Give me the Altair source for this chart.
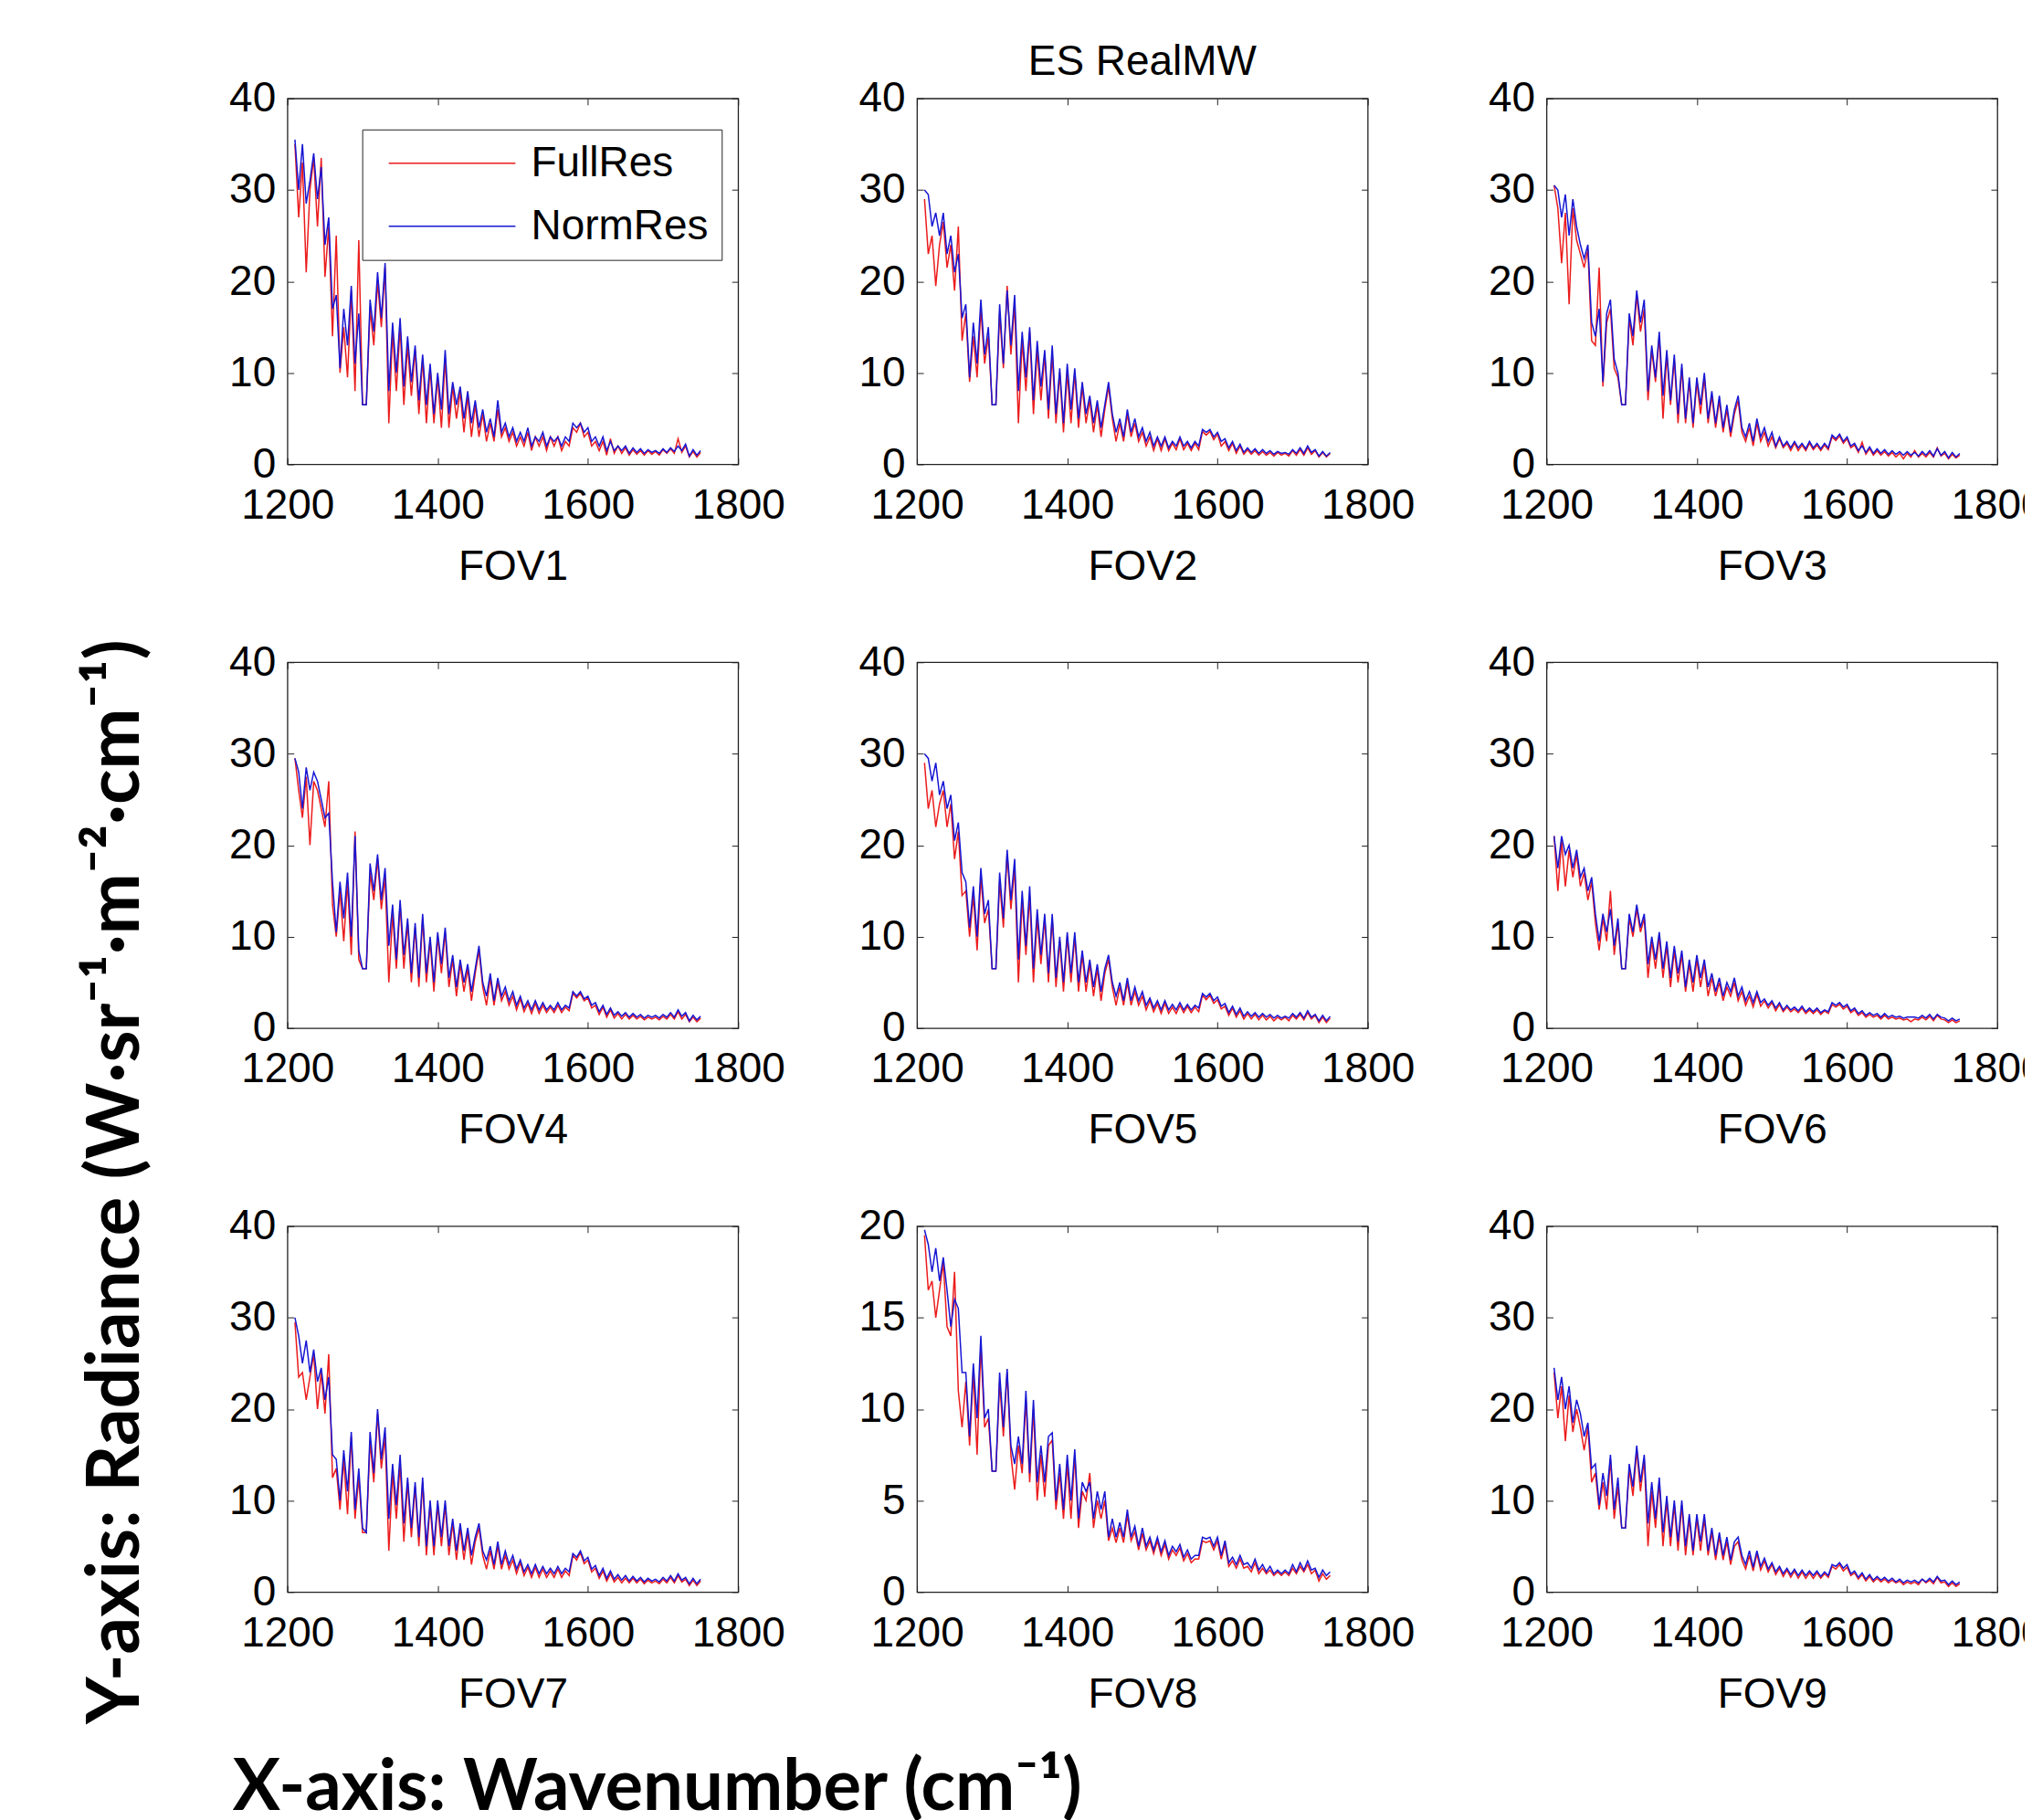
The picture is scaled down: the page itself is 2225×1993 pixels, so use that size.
import altair as alt
import pandas as pd

# ---------------- data ----------------
WAVENUMBER_START = 1210
WAVENUMBER_STEP = 5
N_CHANNELS = 109
WAVENUMBERS = [WAVENUMBER_START + WAVENUMBER_STEP * i for i in range(N_CHANNELS)]
SERIES = ["FullRes", "NormRes"]
X_TICKS = [1200, 1400, 1600, 1800]
Y_TICKS_40 = [0, 10, 20, 30, 40]
Y_TICKS_20 = [0, 5, 10, 15, 20]

FOV1_NORM = [35.5, 30.0, 35.0, 28.5, 31.0, 34.0, 29.0, 32.5, 24.0, 27.0,
             17.0, 18.5, 10.5, 17.0, 13.0, 19.5, 11.0, 16.5, 6.5, 6.5,
             18.0, 14.5, 21.0, 16.0, 22.0, 8.0, 15.5, 10.0, 16.0, 8.5,
             14.0, 9.0, 13.0, 7.0, 12.0, 6.5, 11.0, 5.5, 10.0, 6.0,
             12.5, 5.5, 9.0, 6.5, 8.5, 5.0, 8.0, 4.5, 7.0, 4.0,
             6.0, 3.5, 5.0, 3.0, 7.0, 3.5, 4.5, 3.0, 4.0, 2.5,
             3.5, 2.5, 4.0, 2.0, 3.0, 2.5, 3.5, 2.0, 3.0, 2.5,
             3.0, 2.0, 3.0, 2.5, 4.5, 4.0, 4.5, 3.5, 4.0, 2.5,
             3.0, 2.0, 3.0, 1.5, 2.5, 1.5, 2.0, 1.5, 2.0, 1.2,
             1.8, 1.3, 1.7, 1.2, 1.6, 1.3, 1.5, 1.2, 1.7, 1.3,
             1.8, 1.4, 2.0, 1.5, 2.2, 0.9, 1.6, 1.0, 1.5]
FOV1_FULL = [35.0, 27.0, 33.0, 21.0, 30.0, 33.5, 26.0, 33.5, 20.5, 26.0,
             14.0, 25.0, 10.0, 15.0, 9.5, 19.0, 8.0, 24.5, 6.5, 6.5,
             17.0, 13.0, 20.0, 15.0, 21.5, 4.5, 14.5, 8.0, 15.0, 6.5,
             13.0, 7.5, 12.5, 5.5, 11.5, 4.5, 10.5, 4.5, 9.5, 4.0,
             11.5, 4.0, 8.5, 5.0, 8.0, 3.5, 7.5, 3.0, 6.5, 3.0,
             5.5, 2.5, 4.5, 2.5, 6.0, 3.0, 4.0, 2.5, 3.5, 2.0,
             3.0, 2.0, 3.5, 1.5, 3.0, 2.0, 3.0, 1.5, 3.0, 2.0,
             3.0, 1.5, 2.5, 2.0, 4.0, 3.5, 4.5, 3.0, 3.5, 2.0,
             2.5, 1.5, 2.5, 1.0, 2.8, 1.2, 2.0, 1.2, 1.8, 1.0,
             1.6, 1.1, 1.5, 1.0, 1.5, 1.1, 1.4, 1.0, 1.6, 1.2,
             1.7, 1.2, 2.8, 1.3, 2.0, 0.8, 1.4, 0.8, 1.3]

FOV2_NORM = [30.0, 29.5, 26.0, 27.5, 25.0, 27.5, 23.0, 25.0, 21.0, 23.0,
             16.0, 17.5, 9.5, 15.5, 11.0, 18.0, 12.0, 15.0, 6.5, 6.5,
             17.5, 11.0, 19.0, 13.0, 18.5, 8.0, 14.5, 9.5, 15.0, 7.0,
             13.5, 8.5, 12.5, 6.0, 13.0, 5.5, 10.5, 4.5, 11.0, 6.0,
             10.5, 5.0, 9.0, 5.5, 7.5, 4.5, 7.0, 4.0, 6.5, 9.0,
             5.5, 3.5, 5.0, 3.0, 6.0, 3.5, 5.0, 3.0, 4.0, 2.5,
             3.5, 2.0, 3.0, 2.0, 3.0, 1.8, 2.5, 2.0, 3.0, 2.0,
             2.5, 1.8, 2.5, 2.0, 3.8, 3.5, 3.8, 3.0, 3.5, 2.5,
             2.8, 1.8, 2.5, 1.5, 2.2, 1.3, 1.8, 1.3, 1.7, 1.2,
             1.6, 1.2, 1.5, 1.1, 1.4, 1.2, 1.3, 1.1, 1.6, 1.2,
             1.8, 1.2, 2.0, 1.3, 1.6, 0.9, 1.4, 0.9, 1.3]
FOV2_FULL = [29.0, 23.0, 25.0, 19.5, 24.0, 26.5, 21.5, 24.0, 19.0, 26.0,
             13.5, 16.5, 9.0, 14.0, 9.5, 17.0, 11.0, 14.0, 6.5, 6.5,
             16.5, 10.5, 19.5, 12.0, 17.5, 4.5, 13.5, 8.0, 14.5, 5.5,
             12.5, 7.0, 12.0, 5.0, 12.0, 4.5, 10.0, 3.5, 10.0, 4.5,
             10.0, 4.0, 8.5, 4.5, 7.0, 3.5, 6.5, 3.0, 6.0, 8.5,
             5.0, 2.5, 4.5, 2.5, 5.5, 3.0, 4.5, 2.5, 3.5, 2.0,
             3.0, 1.5, 2.8, 1.5, 2.8, 1.5, 2.3, 1.6, 2.8, 1.6,
             2.3, 1.5, 2.3, 1.6, 3.6, 3.2, 3.6, 2.7, 3.3, 2.0,
             2.5, 1.5, 2.3, 1.2, 2.0, 1.1, 1.6, 1.1, 1.5, 1.0,
             1.4, 1.0, 1.3, 0.9, 1.3, 1.0, 1.2, 0.9, 1.5, 1.0,
             1.6, 1.0, 1.8, 1.1, 1.5, 0.8, 1.3, 0.8, 1.2]

FOV3_NORM = [30.5, 30.0, 27.0, 29.5, 25.0, 29.0, 26.0, 24.0, 22.5, 24.0,
             15.5, 14.0, 17.0, 9.0, 16.5, 18.0, 11.5, 10.0, 6.5, 6.5,
             16.5, 14.0, 19.0, 15.5, 18.0, 8.0, 13.0, 9.5, 14.5, 7.5,
             12.5, 7.0, 12.0, 5.5, 11.0, 5.0, 9.5, 4.5, 9.5, 6.5,
             10.0, 5.0, 8.0, 4.5, 7.5, 4.0, 6.5, 3.5, 6.0, 7.5,
             4.0, 3.0, 4.5, 2.5, 5.0, 3.0, 4.0, 2.5, 3.5, 2.0,
             3.0, 2.0, 2.5, 1.8, 2.5, 1.8, 2.3, 1.7, 2.5, 1.8,
             2.3, 1.7, 2.3, 1.8, 3.2, 2.8, 3.3, 2.5, 3.0, 2.0,
             2.3, 1.5, 2.0, 1.3, 1.9, 1.2, 1.7, 1.2, 1.6, 1.1,
             1.5, 1.1, 1.4, 1.0, 1.4, 1.0, 1.3, 0.9, 1.4, 1.0,
             1.5, 0.9, 1.7, 1.0, 1.4, 0.7, 1.3, 0.8, 1.2]
FOV3_FULL = [30.5, 28.0, 22.0, 27.5, 17.5, 28.0, 24.5, 23.0, 21.5, 23.5,
             13.5, 13.0, 21.5, 8.5, 15.5, 17.0, 10.5, 9.5, 6.5, 6.5,
             16.0, 13.0, 18.5, 14.5, 17.0, 7.0, 12.5, 9.0, 14.0, 5.0,
             12.0, 6.5, 11.5, 4.5, 10.5, 4.5, 9.0, 4.0, 9.0, 5.5,
             9.5, 4.5, 7.5, 4.0, 7.0, 3.5, 6.0, 3.0, 5.5, 7.0,
             3.5, 2.5, 4.0, 2.0, 4.5, 2.5, 3.5, 2.0, 3.0, 1.8,
             2.8, 1.8, 2.3, 1.5, 2.3, 1.5, 2.1, 1.5, 2.3, 1.6,
             2.1, 1.5, 2.1, 1.6, 3.0, 2.6, 3.1, 2.3, 2.8, 1.8,
             2.1, 1.3, 2.4, 1.1, 1.7, 1.0, 1.5, 1.0, 1.4, 0.9,
             1.3, 0.8, 1.2, 0.6, 1.2, 0.8, 1.5, 0.8, 1.2, 0.8,
             1.3, 0.8, 1.8, 0.9, 1.2, 0.6, 1.1, 0.7, 1.0]

FOV4_NORM = [29.5, 28.0, 24.0, 28.5, 26.0, 28.0, 27.0, 25.0, 23.0, 23.5,
             16.0, 10.5, 16.0, 12.0, 17.0, 10.0, 21.0, 8.5, 6.5, 6.5,
             18.0, 15.0, 19.0, 14.0, 17.5, 9.0, 13.5, 7.5, 14.0, 8.0,
             12.0, 6.0, 11.5, 5.5, 12.5, 6.0, 10.0, 5.0, 10.5, 7.0,
             11.0, 5.5, 8.0, 4.5, 7.5, 5.0, 7.0, 4.0, 6.5, 9.0,
             5.0, 3.5, 6.0, 3.0, 5.5, 3.5, 4.5, 3.0, 4.0, 2.5,
             3.5, 2.2, 3.0, 2.0, 3.0, 2.0, 2.8, 2.0, 2.5, 2.0,
             2.8, 2.0, 2.5, 2.2, 4.0, 3.5, 4.0, 3.2, 3.5, 2.5,
             2.8, 1.8, 2.5, 1.5, 2.2, 1.4, 1.8, 1.3, 1.7, 1.2,
             1.6, 1.2, 1.5, 1.1, 1.4, 1.2, 1.4, 1.1, 1.5, 1.2,
             1.7, 1.2, 2.0, 1.3, 1.7, 0.8, 1.4, 0.9, 1.3]
FOV4_FULL = [29.5, 26.0, 23.0, 27.5, 20.0, 27.0, 26.0, 24.0, 22.0, 27.0,
             13.5, 10.0, 15.0, 9.5, 16.0, 8.0, 21.5, 7.5, 6.5, 6.5,
             17.0, 14.0, 18.5, 13.0, 16.5, 5.0, 12.5, 6.5, 13.5, 6.5,
             11.5, 5.0, 11.0, 4.5, 12.0, 5.0, 9.5, 4.0, 10.0, 6.0,
             10.5, 4.5, 7.5, 3.5, 7.0, 4.0, 6.5, 3.0, 6.0, 8.5,
             4.5, 2.5, 5.5, 2.5, 5.0, 3.0, 4.0, 2.5, 3.5, 2.0,
             3.2, 1.8, 2.7, 1.6, 2.7, 1.6, 2.5, 1.7, 2.3, 1.7,
             2.5, 1.7, 2.3, 1.9, 3.8, 3.3, 3.8, 3.0, 3.3, 2.2,
             2.5, 1.5, 2.3, 1.2, 2.0, 1.1, 1.6, 1.0, 1.5, 1.0,
             1.4, 1.0, 1.3, 0.9, 1.2, 1.0, 1.2, 0.9, 1.3, 1.0,
             1.5, 1.0, 1.8, 1.0, 1.5, 0.7, 1.2, 0.7, 1.1]

FOV5_NORM = [30.0, 29.5, 27.0, 29.0, 25.5, 27.0, 24.0, 25.5, 20.5, 22.5,
             17.0, 16.0, 11.0, 15.5, 10.0, 17.5, 12.5, 14.0, 6.5, 6.5,
             17.0, 12.0, 19.5, 14.0, 18.5, 7.5, 15.0, 9.0, 15.5, 6.5,
             13.0, 8.0, 12.5, 6.0, 12.5, 5.5, 10.0, 5.0, 10.5, 6.0,
             10.5, 5.0, 8.5, 5.0, 7.5, 4.5, 7.0, 4.0, 6.5, 8.0,
             5.0, 3.5, 5.0, 3.0, 5.5, 3.0, 4.5, 3.0, 4.0, 2.5,
             3.3, 2.2, 3.0, 2.0, 3.0, 2.0, 2.6, 2.0, 2.8, 2.0,
             2.6, 2.0, 2.5, 2.2, 3.8, 3.4, 3.8, 3.0, 3.4, 2.4,
             2.7, 1.7, 2.4, 1.5, 2.2, 1.3, 1.8, 1.3, 1.7, 1.2,
             1.6, 1.2, 1.5, 1.1, 1.4, 1.1, 1.3, 1.1, 1.6, 1.2,
             1.7, 1.1, 1.9, 1.2, 1.5, 0.8, 1.4, 0.8, 1.3]
FOV5_FULL = [29.0, 24.0, 26.0, 22.0, 24.5, 26.0, 22.0, 24.5, 18.5, 21.5,
             14.5, 15.0, 10.0, 14.5, 8.5, 16.5, 11.5, 13.0, 6.5, 6.5,
             16.0, 11.0, 19.0, 13.0, 17.5, 5.0, 14.0, 8.0, 14.5, 5.0,
             12.0, 7.0, 12.0, 5.0, 12.0, 4.5, 9.5, 4.0, 10.0, 5.0,
             10.0, 4.0, 8.0, 4.0, 7.0, 3.5, 6.5, 3.0, 6.0, 7.5,
             4.5, 2.5, 4.5, 2.5, 5.0, 2.5, 4.0, 2.5, 3.5, 2.0,
             3.0, 1.8, 2.7, 1.6, 2.7, 1.6, 2.3, 1.6, 2.5, 1.7,
             2.4, 1.7, 2.3, 1.8, 3.6, 3.1, 3.6, 2.7, 3.1, 2.1,
             2.4, 1.4, 2.2, 1.2, 1.9, 1.0, 1.6, 1.0, 1.5, 0.9,
             1.4, 0.9, 1.3, 0.8, 1.2, 0.9, 1.2, 0.8, 1.4, 1.0,
             1.5, 0.9, 1.7, 1.0, 1.4, 0.6, 1.2, 0.6, 1.1]

FOV6_NORM = [21.0, 17.5, 21.0, 19.0, 20.0, 17.5, 19.5, 16.5, 17.5, 15.0,
             16.5, 12.5, 9.5, 12.5, 10.5, 13.0, 9.0, 12.0, 6.5, 6.5,
             12.5, 10.5, 13.5, 11.0, 12.5, 7.0, 10.0, 7.5, 10.5, 6.5,
             9.5, 5.5, 9.0, 6.0, 8.5, 4.5, 7.5, 5.0, 8.0, 5.5,
             7.5, 4.5, 6.0, 4.0, 5.5, 3.5, 5.0, 4.0, 5.5, 3.5,
             4.5, 3.0, 4.0, 2.8, 4.0, 2.8, 3.2, 2.5, 3.0, 2.2,
             2.8, 2.0, 2.5, 2.0, 2.3, 1.9, 2.4, 1.8, 2.2, 1.8,
             2.2, 1.7, 2.0, 1.8, 2.8, 2.5, 2.8, 2.3, 2.6, 1.9,
             2.2, 1.6, 1.9, 1.4, 1.7, 1.4, 1.6, 1.2, 1.6, 1.2,
             1.4, 1.2, 1.3, 1.1, 1.2, 1.2, 1.2, 1.1, 1.4, 1.1,
             1.5, 1.0, 1.5, 1.2, 1.1, 0.8, 1.1, 0.8, 1.0]
FOV6_FULL = [21.0, 15.0, 20.5, 15.5, 19.5, 16.5, 19.0, 15.5, 17.0, 14.0,
             16.0, 11.5, 8.5, 12.0, 9.5, 15.0, 8.0, 11.5, 6.5, 6.5,
             12.0, 10.0, 13.0, 10.5, 12.0, 5.5, 9.5, 6.5, 10.0, 5.5,
             9.0, 4.5, 8.5, 5.0, 8.0, 4.0, 7.0, 4.0, 7.5, 4.5,
             7.0, 3.5, 5.5, 3.5, 5.0, 3.0, 4.5, 3.5, 5.0, 3.0,
             4.0, 2.5, 3.5, 2.3, 3.7, 2.4, 3.0, 2.2, 2.8, 1.9,
             2.6, 1.8, 2.3, 1.8, 2.1, 1.7, 2.2, 1.6, 2.0, 1.6,
             2.0, 1.5, 1.9, 1.6, 2.6, 2.3, 2.6, 2.1, 2.4, 1.7,
             2.0, 1.4, 1.7, 1.2, 1.5, 1.2, 1.4, 1.0, 1.4, 1.0,
             1.2, 1.0, 1.1, 0.9, 1.0, 0.7, 1.0, 0.9, 1.2, 0.9,
             1.3, 0.8, 1.4, 1.0, 0.9, 0.6, 0.9, 0.6, 0.8]

FOV7_NORM = [30.0, 28.0, 25.0, 27.5, 24.0, 26.5, 23.0, 24.5, 21.0, 23.5,
             15.0, 14.5, 10.0, 15.5, 11.0, 17.5, 9.0, 13.5, 7.0, 6.5,
             17.5, 13.0, 20.0, 14.5, 18.0, 8.0, 14.0, 9.5, 15.0, 7.5,
             12.5, 7.0, 12.0, 6.0, 12.5, 5.0, 10.0, 5.0, 10.0, 6.0,
             10.0, 5.0, 8.0, 4.5, 7.5, 4.5, 7.0, 4.0, 6.0, 7.5,
             4.5, 3.5, 5.0, 3.0, 5.5, 3.0, 4.5, 3.0, 4.0, 2.5,
             3.5, 2.2, 3.0, 2.0, 3.0, 2.0, 2.8, 2.0, 2.6, 2.0,
             2.8, 2.0, 2.6, 2.2, 4.2, 3.8, 4.5, 3.4, 3.8, 2.5,
             2.9, 1.8, 2.6, 1.5, 2.3, 1.4, 1.9, 1.3, 1.8, 1.2,
             1.7, 1.2, 1.6, 1.1, 1.5, 1.2, 1.4, 1.1, 1.6, 1.2,
             1.8, 1.2, 2.0, 1.3, 1.6, 0.9, 1.5, 0.9, 1.4]
FOV7_FULL = [29.5, 23.5, 24.0, 21.0, 23.5, 26.0, 20.0, 24.0, 19.5, 26.0,
             12.5, 13.5, 9.0, 14.5, 8.5, 17.0, 8.0, 12.5, 6.5, 6.5,
             16.5, 12.0, 19.5, 13.5, 17.0, 4.5, 13.0, 8.0, 14.0, 5.5,
             12.0, 6.0, 11.5, 5.0, 12.0, 4.0, 9.5, 4.0, 9.5, 5.0,
             9.5, 4.0, 7.5, 3.5, 7.0, 3.5, 6.5, 3.0, 5.5, 7.0,
             4.0, 2.5, 4.5, 2.5, 5.0, 2.5, 4.0, 2.5, 3.5, 2.0,
             3.2, 1.8, 2.7, 1.6, 2.7, 1.6, 2.5, 1.6, 2.3, 1.6,
             2.5, 1.6, 2.3, 1.8, 4.0, 3.5, 4.3, 3.1, 3.5, 2.2,
             2.6, 1.5, 2.3, 1.2, 2.0, 1.1, 1.6, 1.0, 1.5, 1.0,
             1.5, 1.0, 1.4, 0.9, 1.3, 1.0, 1.2, 0.9, 1.4, 1.0,
             1.6, 1.0, 1.8, 1.1, 1.4, 0.7, 1.3, 0.7, 1.2]

FOV8_NORM = [19.8, 19.0, 17.5, 18.8, 17.0, 18.3, 16.5, 14.5, 16.0, 15.5,
             12.0, 12.0, 8.5, 12.5, 9.5, 14.0, 9.5, 10.0, 6.6, 6.6,
             12.0, 9.0, 12.2, 8.0, 7.0, 8.5, 7.0, 11.0, 6.5, 10.5,
             6.0, 8.0, 6.0, 8.5, 8.7, 5.0, 7.0, 4.5, 7.5, 5.0,
             7.8, 4.0, 6.0, 5.5, 6.0, 4.0, 5.5, 4.5, 5.5, 3.0,
             4.0, 3.0, 3.8, 3.0, 4.5, 3.0, 3.6, 2.5, 3.5, 2.5,
             3.0, 2.3, 3.0, 2.2, 2.8, 2.0, 2.5, 2.2, 2.6, 1.9,
             2.3, 1.8, 2.0, 2.0, 3.0, 2.9, 3.0, 2.5, 3.0, 2.0,
             2.8, 1.6, 1.9, 1.5, 2.0, 1.5, 1.6, 1.3, 1.8, 1.2,
             1.5, 1.1, 1.4, 1.0, 1.2, 1.0, 1.2, 1.0, 1.5, 1.1,
             1.6, 1.2, 1.7, 1.2, 1.3, 0.8, 1.2, 0.9, 1.1]
FOV8_FULL = [19.5, 16.5, 17.0, 15.0, 16.5, 18.0, 14.5, 14.0, 17.5, 11.0,
             9.0, 11.5, 8.0, 12.0, 7.5, 13.5, 9.0, 9.5, 6.6, 6.6,
             11.5, 8.5, 12.0, 7.5, 5.6, 8.0, 6.5, 10.5, 6.0, 10.0,
             5.0, 7.5, 5.2, 8.0, 8.3, 4.5, 6.5, 4.0, 7.0, 4.0,
             7.5, 3.5, 5.5, 5.0, 6.5, 3.5, 5.0, 4.0, 5.0, 2.8,
             3.5, 2.7, 3.5, 2.7, 4.2, 2.8, 3.3, 2.3, 3.2, 2.3,
             2.8, 2.1, 2.8, 2.0, 2.6, 1.8, 2.3, 2.0, 2.4, 1.7,
             2.1, 1.6, 1.8, 1.8, 2.8, 2.7, 2.8, 2.3, 2.8, 1.8,
             2.6, 1.4, 1.7, 1.3, 1.8, 1.3, 1.4, 1.1, 1.6, 1.0,
             1.3, 1.0, 1.2, 0.9, 1.1, 0.9, 1.1, 0.9, 1.3, 1.0,
             1.4, 1.1, 1.5, 1.0, 1.2, 0.6, 1.0, 0.7, 0.9]

FOV9_NORM = [24.5, 21.0, 23.5, 20.0, 22.5, 18.5, 21.0, 19.5, 17.0, 18.5,
             13.5, 14.0, 9.5, 13.0, 10.5, 15.0, 9.0, 12.5, 7.0, 7.0,
             14.0, 11.5, 16.0, 12.0, 15.0, 7.5, 12.0, 8.0, 12.5, 6.5,
             10.5, 6.0, 10.0, 5.5, 10.0, 5.0, 8.5, 4.5, 8.5, 5.5,
             8.5, 4.5, 7.0, 4.0, 6.5, 4.0, 6.0, 3.5, 5.5, 6.0,
             4.0, 3.0, 4.5, 2.7, 4.5, 2.8, 3.7, 2.5, 3.2, 2.2,
             2.8, 2.0, 2.6, 1.9, 2.5, 1.8, 2.4, 1.8, 2.3, 1.8,
             2.3, 1.7, 2.2, 1.8, 3.0, 2.8, 3.2, 2.6, 3.0, 2.0,
             2.3, 1.6, 2.1, 1.4, 1.9, 1.3, 1.7, 1.3, 1.6, 1.2,
             1.5, 1.1, 1.4, 1.0, 1.3, 1.1, 1.3, 1.0, 1.4, 1.1,
             1.5, 1.1, 1.7, 1.2, 1.3, 0.8, 1.2, 0.8, 1.1]
FOV9_FULL = [24.0, 19.0, 22.5, 16.5, 21.5, 17.5, 20.0, 18.0, 15.5, 18.0,
             12.0, 13.0, 9.0, 12.0, 9.0, 14.5, 8.0, 11.5, 7.0, 7.0,
             13.5, 10.5, 15.5, 11.0, 14.5, 5.0, 11.0, 7.0, 12.0, 5.0,
             10.0, 5.0, 9.5, 4.5, 9.5, 4.0, 8.0, 4.0, 8.0, 4.5,
             8.0, 4.0, 6.5, 3.5, 6.0, 3.5, 5.5, 3.0, 5.0, 5.5,
             3.5, 2.5, 4.0, 2.3, 4.2, 2.4, 3.4, 2.2, 3.0, 1.9,
             2.6, 1.7, 2.4, 1.6, 2.3, 1.5, 2.2, 1.5, 2.1, 1.5,
             2.1, 1.5, 2.0, 1.6, 2.8, 2.5, 3.0, 2.3, 2.7, 1.8,
             2.1, 1.4, 1.9, 1.2, 1.7, 1.1, 1.5, 1.1, 1.4, 1.0,
             1.3, 1.0, 1.2, 0.8, 1.1, 0.9, 1.1, 0.8, 1.4, 1.0,
             1.3, 0.9, 1.6, 1.0, 1.1, 0.6, 1.0, 0.6, 0.9]

PANELS = [
    ("FOV1", FOV1_FULL, FOV1_NORM, 40, Y_TICKS_40),
    ("FOV2", FOV2_FULL, FOV2_NORM, 40, Y_TICKS_40),
    ("FOV3", FOV3_FULL, FOV3_NORM, 40, Y_TICKS_40),
    ("FOV4", FOV4_FULL, FOV4_NORM, 40, Y_TICKS_40),
    ("FOV5", FOV5_FULL, FOV5_NORM, 40, Y_TICKS_40),
    ("FOV6", FOV6_FULL, FOV6_NORM, 40, Y_TICKS_40),
    ("FOV7", FOV7_FULL, FOV7_NORM, 40, Y_TICKS_40),
    ("FOV8", FOV8_FULL, FOV8_NORM, 20, Y_TICKS_20),
    ("FOV9", FOV9_FULL, FOV9_NORM, 40, Y_TICKS_40),
]

SUPTITLE = "ES RealMW"
Y_SLIDE_LABEL = "Y-axis:  Radiance (W\u00b7sr\u207b\u00b9\u00b7m\u207b\u00b2\u00b7cm\u207b\u00b9)"
X_SLIDE_LABEL = "X-axis: Wavenumber (cm\u207b\u00b9)"

# ---------------- style ----------------
RED = "#ec1c1c"
BLUE = "#1616d4"
MFONT = "Liberation Sans"
SFONT = "Lato"
FS = 46
YFS = 80
XFS = 78
W, H = 494, 401
TICK = 7


def make_panel(idx, name, full, norm, ymax, yticks):
    df_full = pd.DataFrame({"wn": WAVENUMBERS, "rad": full, "series": SERIES[0]})
    df_norm = pd.DataFrame({"wn": WAVENUMBERS, "rad": norm, "series": SERIES[1]})
    xscale = alt.Scale(domain=[1200, 1800], nice=False, zero=False)
    yscale = alt.Scale(domain=[0, ymax], nice=False, zero=False)

    if idx == 0:
        legend = alt.Legend(
            orient="none", legendX=82, legendY=34, title=None,
            symbolType="M-0.36,0H5.95", symbolSize=1936, symbolStrokeWidth=1.6,
            labelFont=MFONT, labelFontSize=FS, labelColor="black", labelLimit=400,
            labelOffset=125, padding=14, rowPadding=23,
            strokeColor="#222222", fillColor="white", direction="vertical",
        )
    else:
        legend = None
    color = alt.Color("series:N",
                      scale=alt.Scale(domain=SERIES, range=[RED, BLUE]),
                      legend=legend)

    common = dict(grid=False, domain=False, tickSize=TICK, offset=-TICK,
                  tickColor="#222222", tickWidth=1, labelOverlap=False,
                  labelFlush=False)

    x_bottom = alt.Axis(orient="bottom", values=X_TICKS, format="d",
                        labelFont=MFONT, labelFontSize=FS, labelColor="black",
                        labelPadding=23, title=name, titleFont=MFONT,
                        titleFontSize=FS, titleFontWeight="normal",
                        titleColor="black", titlePadding=22, **common)
    x_top = alt.Axis(orient="top", values=X_TICKS, labels=False, title=None,
                     **common)
    if idx == 3:
        y_left = alt.Axis(orient="left", values=yticks, format="d",
                          labelFont=MFONT, labelFontSize=FS, labelColor="black",
                          labelPadding=13, title=Y_SLIDE_LABEL, titleFont=SFONT,
                          titleFontSize=YFS, titleFontWeight="bold",
                          titleColor="black", titleAngle=270, titleAlign="center",
                          titleBaseline="alphabetic", titleX=-170, titleY=569,
                          **common)
    else:
        y_left = alt.Axis(orient="left", values=yticks, format="d",
                          labelFont=MFONT, labelFontSize=FS, labelColor="black",
                          labelPadding=13, title=None, **common)
    y_right = alt.Axis(orient="right", values=yticks, labels=False, title=None,
                       **common)

    red = alt.Chart(df_full).mark_line(strokeWidth=1.5).encode(
        x=alt.X("wn:Q", scale=xscale, axis=x_bottom),
        y=alt.Y("rad:Q", scale=yscale, axis=y_left),
        color=color,
    )
    blue = alt.Chart(df_norm).mark_line(strokeWidth=1.5).encode(
        x=alt.X("wn:Q", scale=xscale, axis=x_top),
        y=alt.Y("rad:Q", scale=yscale, axis=y_right),
        color=color,
    )
    layer = alt.layer(red, blue).resolve_axis(x="independent", y="independent")
    props = dict(width=W, height=H)
    if idx == 1:
        props["title"] = alt.TitleParams(
            SUPTITLE, orient="top", anchor="middle", frame="group",
            font=MFONT, fontSize=FS, fontWeight="normal", color="black",
            baseline="alphabetic", offset=-43,
        )
    return layer.properties(**props)


panels = [make_panel(i, *p) for i, p in enumerate(PANELS)]

chart = alt.concat(
    *panels, columns=3, spacing={"row": 217, "column": 196}, bounds="flush"
).resolve_scale(color="independent").properties(
    title=alt.TitleParams(
        X_SLIDE_LABEL, orient="bottom", anchor="start", frame="group",
        font=SFONT, fontSize=XFS, fontWeight="bold", color="black",
        offset=22, dx=-60,
    ),
    padding={"left": 79, "top": 35, "right": -22, "bottom": -6},
).configure_view(stroke="#222222", strokeWidth=1.3)

chart.save("out.html", embed_options={"renderer": "svg", "actions": False})
